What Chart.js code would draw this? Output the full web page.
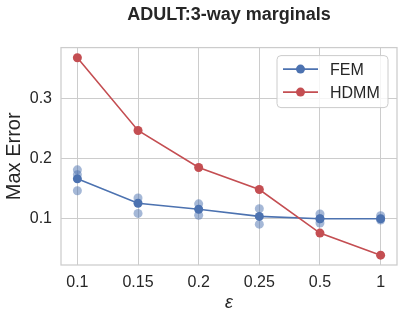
<!DOCTYPE html>
<html>
<head>
<meta charset="utf-8">
<script src="https://cdn.jsdelivr.net/npm/chart.js@4.4.1/dist/chart.umd.min.js"></script>
<style>
  html, body { margin: 0; padding: 0; background: #fff; }
</style>
</head>
<body>
<canvas id="chart" width="403" height="319"></canvas>
<script>
const epsLabels = ['0.1', '0.15', '0.2', '0.25', '0.5', '1'];
const femMean = [0.166, 0.125, 0.115, 0.103, 0.099, 0.099];
const hdmm = [0.369, 0.247, 0.185, 0.148, 0.075, 0.038];
// single FEM runs: category index + error
const femRunX = [0, 0, 0, 1, 1, 2, 2, 3, 3, 4, 4, 4, 5, 5];
const femRunY = [0.181, 0.173, 0.146, 0.134, 0.108, 0.124, 0.105, 0.116, 0.090, 0.107, 0.099, 0.092, 0.104, 0.097];
const yTicks = [0.1, 0.2, 0.3];

const BLUE = '#4C72B0';
const RED = '#C44E52';
const GRID = '#cccccc';
const TXT = '#262626';
const FONT = "'Liberation Sans', Arial, sans-serif";

// matplotlib style frame on all four sides
const framePlugin = {
  id: 'frame',
  beforeDatasetsDraw(chart) {
    const { ctx, chartArea: a } = chart;
    ctx.save();
    ctx.strokeStyle = GRID;
    ctx.lineWidth = 1.25;
    ctx.strokeRect(a.left, a.top, a.right - a.left, a.bottom - a.top);
    ctx.restore();
  }
};

// legend box inside the plot, line + marker per entry
const boxLegend = {
  id: 'boxLegend',
  afterDatasetsDraw(chart) {
    const { ctx, chartArea: a } = chart;
    const items = chart.data.datasets.filter(d => d.inLegend);
    const bx = a.right - 120, by = a.top + 8, bw = 111, bh = 52;
    ctx.save();
    ctx.beginPath();
    ctx.roundRect(bx, by, bw, bh, 4);
    ctx.fillStyle = 'rgba(255,255,255,0.8)';
    ctx.fill();
    ctx.strokeStyle = GRID;
    ctx.lineWidth = 1;
    ctx.stroke();
    items.forEach((d, i) => {
      const y = by + 13.5 + i * 23;
      ctx.strokeStyle = d.borderColor;
      ctx.lineWidth = 1.6;
      ctx.beginPath();
      ctx.moveTo(bx + 6, y);
      ctx.lineTo(bx + 41, y);
      ctx.stroke();
      ctx.fillStyle = d.borderColor;
      ctx.beginPath();
      ctx.arc(bx + 23.5, y, 4.5, 0, Math.PI * 2);
      ctx.fill();
      ctx.fillStyle = TXT;
      ctx.font = '16px ' + FONT;
      ctx.textBaseline = 'middle';
      ctx.fillText(d.label, bx + 53, y + 1);
    });
    ctx.restore();
  }
};

new Chart(document.getElementById('chart'), {
  type: 'line',
  data: {
    datasets: [
      {
        label: 'FEM',
        inLegend: true,
        data: femMean.map((v, i) => ({ x: i, y: v })),
        borderColor: BLUE,
        backgroundColor: BLUE,
        borderWidth: 1.6,
        pointRadius: 4.5,
        pointBorderWidth: 0,
        order: 2
      },
      {
        label: 'HDMM',
        inLegend: true,
        data: hdmm.map((v, i) => ({ x: i, y: v })),
        borderColor: RED,
        backgroundColor: RED,
        borderWidth: 1.6,
        pointRadius: 4.5,
        pointBorderWidth: 0,
        order: 1
      },
      {
        label: 'FEM runs',
        data: femRunX.map((x, i) => ({ x: x, y: femRunY[i] })),
        showLine: false,
        pointRadius: 4.5,
        pointBorderWidth: 0,
        pointBackgroundColor: 'rgba(76,114,176,0.5)',
        order: 3
      }
    ]
  },
  options: {
    responsive: false,
    animation: false,
    layout: { padding: { left: 0, right: 6, top: 0, bottom: 0 } },
    plugins: {
      legend: { display: false },
      tooltip: { enabled: false },
      title: {
        display: true,
        text: 'ADULT:3-way marginals',
        fullSize: false,
        color: TXT,
        font: { family: FONT, size: 18, weight: 'bold' },
        padding: { top: 4, bottom: 22 }
      }
    },
    scales: {
      x: {
        type: 'linear',
        min: -0.27,
        max: 5.27,
        afterBuildTicks: s => { s.ticks = epsLabels.map((_, i) => ({ value: i })); },
        afterFit: s => { s.height = 54; },
        ticks: {
          callback: v => epsLabels[v],
          color: TXT,
          font: { family: FONT, size: 16 },
          padding: 8,
          autoSkip: false,
          maxRotation: 0
        },
        grid: { color: GRID, drawTicks: false },
        border: { display: false },
        title: {
          display: true,
          text: 'ε',
          color: TXT,
          font: { family: FONT, size: 18, style: 'italic' },
          padding: { top: 0, bottom: 5 }
        }
      },
      y: {
        min: 0.0215,
        max: 0.386,
        afterBuildTicks: s => { s.ticks = yTicks.map(v => ({ value: v })); },
        afterFit: s => { s.width = 61; },
        ticks: {
          callback: v => v.toFixed(1),
          color: TXT,
          font: { family: FONT, size: 16 },
          padding: 9
        },
        grid: { color: GRID, drawTicks: false },
        border: { display: false },
        title: {
          display: true,
          text: 'Max Error',
          color: TXT,
          font: { family: FONT, size: 20 },
          padding: { top: 2.5, bottom: 0 }
        }
      }
    }
  },
  plugins: [framePlugin, boxLegend]
});
</script>
</body>
</html>
